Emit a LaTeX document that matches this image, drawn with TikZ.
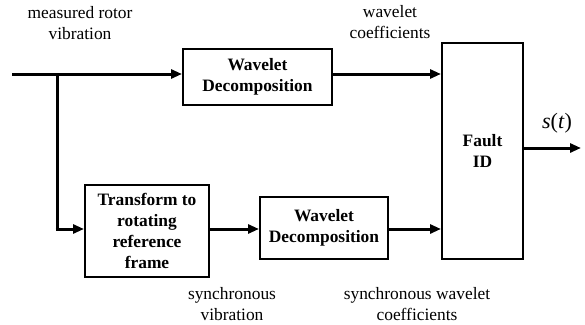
\documentclass[tikz,border=0pt]{standalone}
\usepackage{fontspec}
\setmainfont{Liberation Serif}
\usetikzlibrary{arrows.meta}
\begin{document}
\begin{tikzpicture}[x=1pt,y=-1pt,
  blk/.style={draw,line width=2pt,align=center,font=\fontsize{17.4}{20.8}\selectfont\bfseries,inner sep=0pt},
  lbl/.style={align=center,font=\fontsize{17.4}{20.5}\selectfont,inner sep=0pt},
  arr/.style={line width=3pt,-{Triangle[length=11pt,width=9pt]}},
  ln/.style={line width=3pt}]
\useasboundingbox (0,0) rectangle (585,324);
\node[blk,minimum width=149pt,minimum height=56pt] (wd1) at (257.5,77) {Wavelet\\Decomposition};
\node[blk,minimum width=124pt,minimum height=92pt] (tr) at (147,231) {Transform to\\rotating\\reference\\frame};
\node[blk,minimum width=128pt,minimum height=62pt] (wd2) at (324,228) {Wavelet\\Decomposition};
\node[blk,minimum width=81pt,minimum height=216pt] (fid) at (482.5,151) {Fault\\ID};
\coordinate (in) at (12,74);
\coordinate (br) at (57,74);
\coordinate (bb) at (57,229);
\coordinate (out) at (581,148);
\draw[arr] (in) -- (in -| wd1.west);
\draw[ln] (br) -- (bb);
\draw[arr] ([xshift=-1.5pt]bb) -- (bb -| tr.west);
\draw[arr] (bb -| tr.east) -- (bb -| wd2.west);
\draw[arr] (bb -| wd2.east) -- (bb -| fid.west);
\draw[arr] (in -| wd1.east) -- (in -| fid.west);
\draw[arr] (out -| fid.east) -- (out);
\node[lbl] (l1) at (80,23) {measured rotor\\vibration};
\node[lbl] (l2) at (390,22) {wavelet\\coefficients};
\node[lbl] (l3) at (232,304) {synchronous\\vibration};
\node[lbl] (l4) at (417,304) {synchronous wavelet\\coefficients};
\node[lbl,font=\fontsize{22}{26}\selectfont] (st) at (557,123) {\textit{s}(\textit{t})};
\end{tikzpicture}
\end{document}
